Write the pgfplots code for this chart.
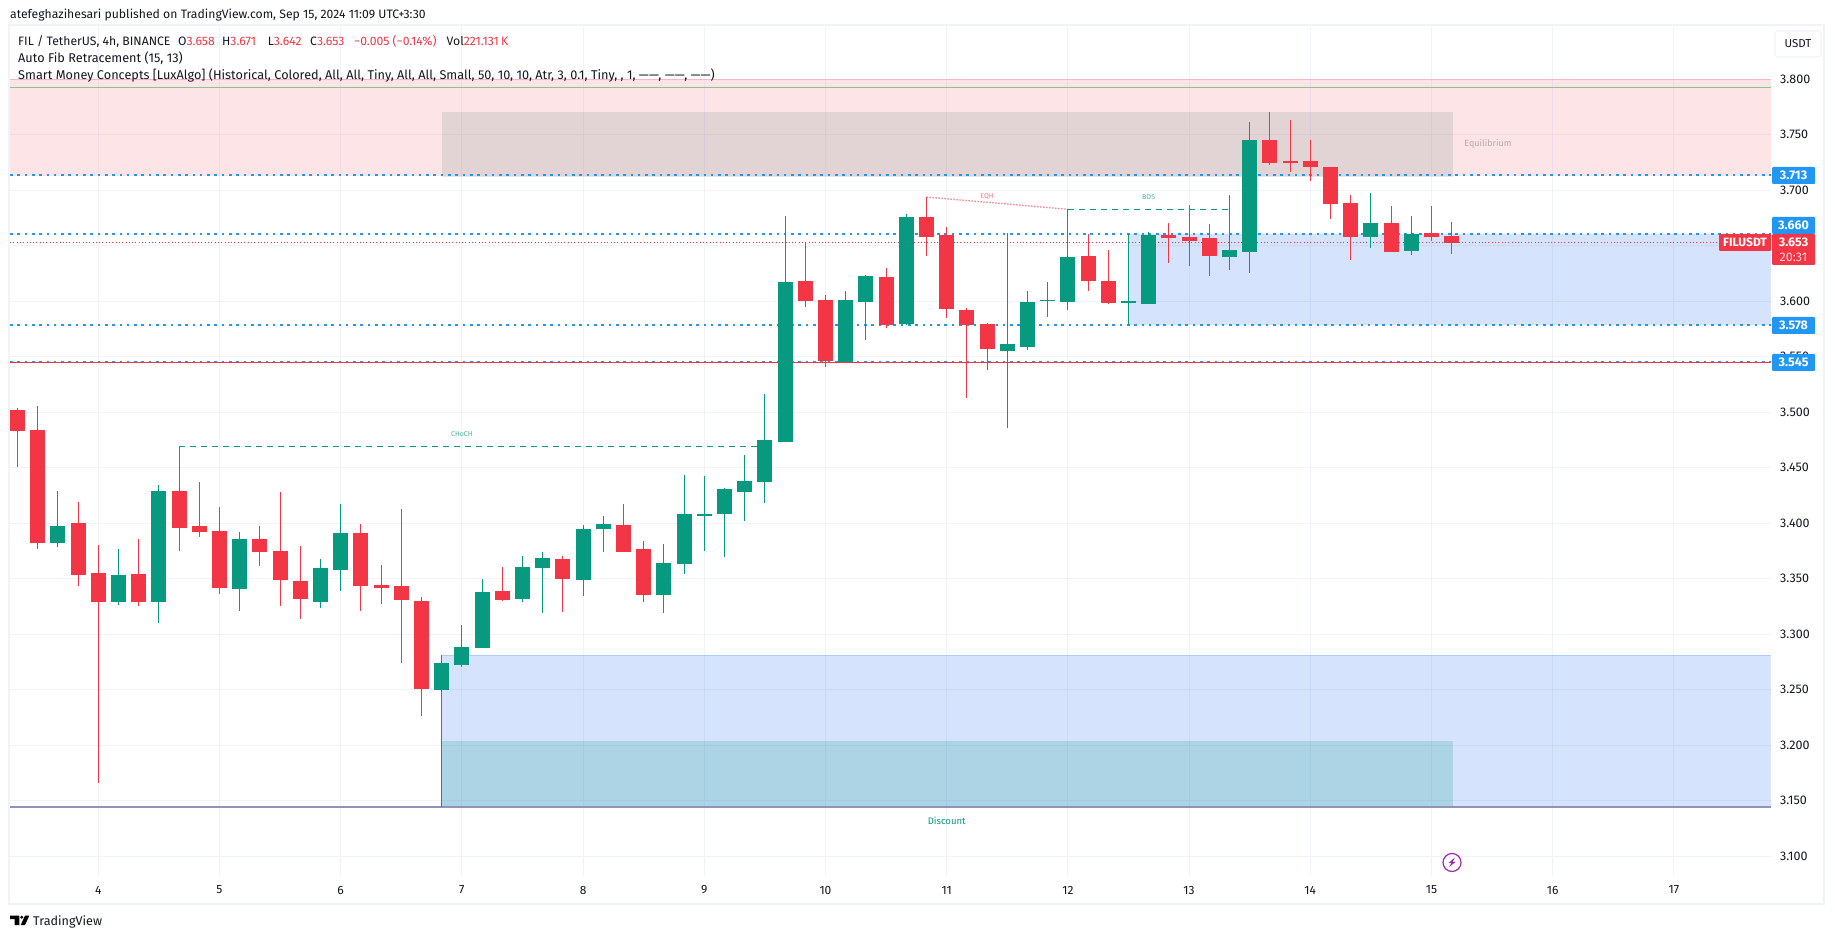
\documentclass[border=0pt]{standalone}
\usepackage{pgfplots}
\usepackage{pgfplotstable}
\usepackage{fontspec}
\pgfplotsset{compat=1.18}
\setmainfont{Fira Sans}
\definecolor{tvred}{HTML}{F23645}
\definecolor{tvgreen}{HTML}{089981}
\definecolor{tvblue}{HTML}{2196F3}
\definecolor{zoneblue}{HTML}{1B69F4}
\definecolor{gridc}{HTML}{F0F3FA}
\definecolor{txt}{HTML}{131722}
\definecolor{eqgrey}{RGB}{120,140,145}
% n: candle number (0 = day 4, six candles a day)
\pgfplotstableread{
n hi top bot lo
-4 3.5039 3.5021 3.4832 3.4510
-3 3.5057 3.4841 3.3822 3.3771
-1 3.4192 3.4003 3.3534 3.3435
0 3.3804 3.3552 3.3291 3.1660
2 3.3859 3.3543 3.3291 3.3255
4 3.4696 3.4291 3.3958 3.3750
5 3.4372 3.3976 3.3922 3.3877
6 3.4147 3.3931 3.3417 3.3363
8 3.3976 3.3859 3.3742 3.3616
9 3.4282 3.3751 3.3490 3.3255
10 3.3796 3.3481 3.3319 3.3138
13 3.3994 3.3913 3.3435 3.3210
14 3.3625 3.3444 3.3417 3.3273
15 3.4129 3.3435 3.3309 3.2741
16 3.3336 3.3300 3.2507 3.2264
20 3.3606 3.3390 3.3309 3.3300
23 3.3705 3.3679 3.3499 3.3201
26 3.4174 3.3985 3.3742 3.3742
27 3.3841 3.3768 3.3354 3.3291
35 3.6531 3.6183 3.6003 3.5949
36 3.6057 3.6012 3.5462 3.5408
39 3.6300 3.6219 3.5786 3.5759
41 3.6939 3.6759 3.6579 3.6408
42 3.6669 3.6597 3.5930 3.5849
43 3.5939 3.5921 3.5786 3.5129
44 3.5804 3.5795 3.5570 3.5381
49 3.6606 3.6408 3.6183 3.6093
50 3.6462 3.6183 3.5984 3.5975
53 3.6705 3.6597 3.6570 3.6345
54 3.6867 3.6579 3.6543 3.6318
55 3.6696 3.6570 3.6408 3.6228
58 3.7705 3.7453 3.7246 3.7228
59 3.7633 3.7264 3.7246 3.7165
60 3.7453 3.7264 3.7210 3.7084
61 3.7210 3.7210 3.6877 3.6741
62 3.6957 3.6885 3.6579 3.6372
64 3.6858 3.6705 3.6444 3.6444
66 3.6858 3.6615 3.6579 3.6543
67 3.6714 3.6588 3.6525 3.6426
}\redcandles
\pgfplotstableread{
n hi top bot lo
-2 3.4291 3.3976 3.3822 3.3789
1 3.3768 3.3534 3.3291 3.3264
3 3.4345 3.4291 3.3291 3.3102
7 3.3922 3.3859 3.3408 3.3210
11 3.3678 3.3597 3.3291 3.3237
12 3.4174 3.3913 3.3579 3.3390
17 3.2813 3.2741 3.2498 3.1444
18 3.3084 3.2886 3.2724 3.2706
19 3.3498 3.3381 3.2877 3.2877
21 3.3705 3.3606 3.3318 3.3291
22 3.3742 3.3688 3.3598 3.3192
24 3.3985 3.3949 3.3490 3.3345
25 3.4066 3.3994 3.3949 3.3742
28 3.3814 3.3642 3.3354 3.3192
29 3.4435 3.4084 3.3633 3.3543
30 3.4426 3.4084 3.4066 3.3750
31 3.4318 3.4309 3.4084 3.3696
32 3.4615 3.4381 3.4282 3.4021
33 3.5165 3.4751 3.4372 3.4183
34 3.6768 3.6174 3.4732 3.4732
37 3.6093 3.6012 3.5453 3.5453
38 3.6237 3.6228 3.5993 3.5651
40 3.6786 3.6759 3.5795 3.5786
45 3.6615 3.5615 3.5552 3.4859
46 3.6093 3.5993 3.5588 3.5561
47 3.6174 3.6012 3.6003 3.5858
48 3.6829 3.6399 3.5993 3.5921
51 3.6606 3.6003 3.5984 3.5786
52 3.6624 3.6597 3.5975 3.5975
56 3.6957 3.6462 3.6399 3.6282
57 3.7615 3.7453 3.6444 3.6255
63 3.6975 3.6705 3.6579 3.6480
65 3.6768 3.6606 3.6453 3.6417
}\greencandles
\newcommand{\hdr}{\fontsize{12.2}{14}\selectfont}
\newcommand{\hdrb}{\fontsize{12.7}{14}\selectfont}
\begin{document}
\begin{tikzpicture}[x=1pt,y=1pt]
\fill[white] (0,0) rectangle (1835,939);
\draw[gridc,line width=2pt] (9,35) rectangle (1824,914);
\begin{axis}[
  at={(10pt,63pt)},anchor=south west,
  width=1761pt,height=849pt,scale only axis,
  xmin=-4.371,xmax=82.81,
  ymin=3.08225,ymax=3.8471,
  axis line style={draw=none},
  major tick length=0pt,
  grid=major,
  grid style={gridc,line width=1pt},
  xtick={0,6,...,78},
  xticklabels={4,5,6,7,8,9,10,11,12,13,14,15,16,17},
  ytick={3.1,3.15,3.2,3.25,3.3,3.35,3.4,3.45,3.5,3.55,3.6,3.65,3.7,3.75,3.8},
  yticklabels={3.100,3.150,3.200,3.250,3.300,3.350,3.400,3.450,3.500,3.550,3.600,3.650,3.700,3.750,3.800},
  yticklabel pos=right,
  x tick label style={anchor=center,yshift=-14pt,inner sep=0pt,font=\fontsize{12}{14}\selectfont,text=txt},
  y tick label style={anchor=west,xshift=9pt,inner sep=0pt,font=\fontsize{12.5}{14}\selectfont,text=txt},
  clip=true,
]
% premium zone
\addplot[fill=tvred,fill opacity=0.125,draw=none,forget plot] coordinates {(-4.371,3.7126) (82.81,3.7126) (82.81,3.8) (-4.371,3.8)} -- cycle;
\addplot[tvred,opacity=0.2,line width=1pt,forget plot] coordinates {(-4.371,3.8) (82.81,3.8)};
\addplot[color={rgb,255:red,140;green,196;blue,140},line width=1pt,forget plot] coordinates {(-4.371,3.7928) (82.81,3.7928)};
% equilibrium
\addplot[fill=eqgrey,fill opacity=0.2,draw=none,forget plot] coordinates {(17,3.7117) (67.07,3.7117) (67.07,3.7705) (17,3.7705)} -- cycle;
% demand zones
\addplot[fill=zoneblue,fill opacity=0.18,draw=none,forget plot] coordinates {(17,3.1444) (82.81,3.1444) (82.81,3.2811) (17,3.2811)} -- cycle;
\addplot[zoneblue,opacity=0.2,line width=1pt,forget plot] coordinates {(17,3.2811) (82.81,3.2811)};
\addplot[fill=zoneblue,fill opacity=0.18,draw=none,forget plot] coordinates {(51,3.5786) (82.81,3.5786) (82.81,3.6606) (51,3.6606)} -- cycle;
% discount
\addplot[fill=tvgreen,fill opacity=0.2,draw=none,forget plot] coordinates {(17,3.1444) (67.07,3.1444) (67.07,3.2039) (17,3.2039)} -- cycle;
% levels
\addplot[tvblue,line width=2.2pt,dash pattern=on 2.6pt off 4.7pt,forget plot] coordinates {(-4.371,3.7135) (82.81,3.7135)};
\addplot[tvblue,line width=2.2pt,dash pattern=on 2.6pt off 4.7pt,forget plot] coordinates {(-4.371,3.6606) (82.81,3.6606)};
\addplot[tvblue,line width=2.2pt,dash pattern=on 2.6pt off 4.7pt,forget plot] coordinates {(-4.371,3.5786) (82.81,3.5786)};
\addplot[tvblue,line width=1pt,dash pattern=on 2.6pt off 4.7pt,forget plot] coordinates {(-4.371,3.5458) (82.81,3.5458)};
\addplot[tvred,line width=1.2pt,forget plot] coordinates {(-4.371,3.5447) (82.81,3.5447)};
\addplot[color={rgb,255:red,143;green,147;blue,184},line width=2pt,forget plot] coordinates {(-4.371,3.1444) (82.81,3.1444)};
\addplot[tvred,line width=1pt,dash pattern=on 1pt off 2.3pt,forget plot] coordinates {(-4.371,3.6531) (82.81,3.6531)};
% structure lines
\addplot[tvgreen,line width=1pt,dash pattern=on 6pt off 5pt,forget plot] coordinates {(4,3.4696) (33,3.4696)};
\addplot[tvgreen,line width=1pt,dash pattern=on 6pt off 5pt,forget plot] coordinates {(48,3.6829) (56,3.6829)};
\addplot[tvred,opacity=0.6,line width=1.3pt,dash pattern=on 1.5pt off 1.5pt,forget plot] coordinates {(41,3.6939) (48,3.6829)};
% candles
\addplot[no markers,draw=none,forget plot,error bars/.cd,y dir=plus,y explicit,error mark=none,error bar style={draw=tvred,line width=1.1pt,solid}]
  table[x=n,y=lo,y error plus expr=\thisrow{hi}-\thisrow{lo}]{\redcandles};
\addplot[no markers,draw=none,forget plot,error bars/.cd,y dir=plus,y explicit,error mark=none,error bar style={draw=tvgreen,line width=1.1pt,solid}]
  table[x=n,y=lo,y error plus expr=\thisrow{hi}-\thisrow{lo}]{\greencandles};
\addplot[no markers,draw=none,forget plot,error bars/.cd,y dir=plus,y explicit,error mark=none,error bar style={draw=tvred,line width=15pt,solid}]
  table[x=n,y=bot,y error plus expr=\thisrow{top}-\thisrow{bot}]{\redcandles};
\addplot[no markers,draw=none,forget plot,error bars/.cd,y dir=plus,y explicit,error mark=none,error bar style={draw=tvgreen,line width=15pt,solid}]
  table[x=n,y=bot,y error plus expr=\thisrow{top}-\thisrow{bot}]{\greencandles};
% labels inside the chart
\node[font=\fontsize{7}{8}\selectfont,text=tvgreen,text opacity=0.75,inner sep=0] at (axis cs:18,3.4802) {CHoCH};
\node[font=\fontsize{7}{8}\selectfont,text=tvgreen,text opacity=0.75,inner sep=0] at (axis cs:52,3.6942) {BOS};
\node[font=\fontsize{7}{8}\selectfont,text=tvred,text opacity=0.65,inner sep=0] at (axis cs:44,3.6942) {EQH};
\node[font=\fontsize{9}{11}\selectfont,text=txt,text opacity=0.3,inner sep=0] at (axis cs:68.8,3.7417) {Equilibrium};
\node[font=\fontsize{9.5}{11}\selectfont,text=tvgreen,inner sep=0] at (axis cs:42,3.1318) {Discount};
\end{axis}
% text that sits on the picture's frame
\node[anchor=base west,inner sep=0,font=\hdr,text=txt] at (10,920) {atefeghazihesari published on TradingView.com, Sep 15, 2024 11:09 UTC+3:30};
\node[anchor=base west,inner sep=0,font=\hdr,text=txt] at (18,893) {FIL / TetherUS, 4h, BINANCE};
\node[anchor=base west,inner sep=0,font=\hdr,text=txt] at (178,893) {O\textcolor{tvred}{3.658}};
\node[anchor=base west,inner sep=0,font=\hdr,text=txt] at (222,893) {H\textcolor{tvred}{3.671}};
\node[anchor=base west,inner sep=0,font=\hdr,text=txt] at (267.6,893) {L\textcolor{tvred}{3.642}};
\node[anchor=base west,inner sep=0,font=\hdr,text=txt] at (310,893) {C\textcolor{tvred}{3.653}};
\node[anchor=base west,inner sep=0,font=\hdr,text=tvred] at (354,893) {−0.005 (−0.14\%)};
\node[anchor=base west,inner sep=0,font=\hdr,text=txt] at (446.5,893) {Vol\textcolor{tvred}{221.131\,K}};
\node[anchor=base west,inner sep=0,font=\hdrb,text=txt] at (18,876) {Auto Fib Retracement (15, 13)};
\node[anchor=base west,inner sep=0,font=\hdrb,text=txt] at (18,859) {Smart Money Concepts [LuxAlgo] (Historical, Colored, All, All, Tiny, All, All, Small, 50, 10, 10, Atr, 3, 0.1, Tiny, , 1, ——, ——, ——)};
% USDT button
\draw[gridc,line width=1.2pt,rounded corners=3pt,fill=white] (1775,882) rectangle (1821,908);
\node[font=\fontsize{11.5}{14}\selectfont,text=txt,inner sep=0] at (1798,895) {USDT};
% price tags
\newcommand{\tag}[3]{\fill[tvblue,rounded corners=1pt] (1772,#1) rectangle (1815,#2); \node[font=\fontsize{12.5}{14}\bfseries\selectfont,text=white,inner sep=0] at (1793.5,{(#1+#2)/2}) {#3};}
\tag{755}{772}{3.713}
\tag{705}{722}{3.660}
\tag{605}{622}{3.578}
\tag{568}{585}{3.545}
\fill[tvred,rounded corners=1pt] (1772,674) rectangle (1815,705);
\node[font=\fontsize{12.5}{14}\bfseries\selectfont,text=white,inner sep=0] at (1793.5,696.5) {3.653};
\node[font=\fontsize{12.5}{14}\selectfont,text=white,text opacity=0.8,inner sep=0] at (1793.5,682) {20:31};
\fill[tvred,rounded corners=1pt] (1719,688) rectangle (1771,705);
\node[font=\fontsize{12}{14}\bfseries\selectfont,text=white,inner sep=0] at (1745,696.5) {FILUSDT};
% logo text and publisher icon
\node[anchor=base west,inner sep=0,font=\fontsize{12.6}{14}\selectfont,text=txt] at (33,13.5) {TradingView};
\fill[black] (10,23.3) -- (19.3,23.3) -- (19.3,14) -- (14.7,14) -- (14.7,20) -- (10,20) -- cycle;
\fill[black] (21.7,21.7) circle (1.6pt);
\fill[black] (25,23.3) -- (29.3,23.3) -- (25,14) -- (20.7,14) -- cycle;
\draw[color={rgb,255:red,156;green,39;blue,176},line width=1.2pt] (1452,76.5) circle (9pt);
\fill[color={rgb,255:red,156;green,39;blue,176}] (1449,72) -- (1451.5,76) -- (1448.5,76) -- (1455,81.5) -- (1452.5,77) -- (1455.5,77) -- cycle;
\pgfresetboundingbox
\useasboundingbox (0,0) rectangle (1835,939);
\end{tikzpicture}
\end{document}
